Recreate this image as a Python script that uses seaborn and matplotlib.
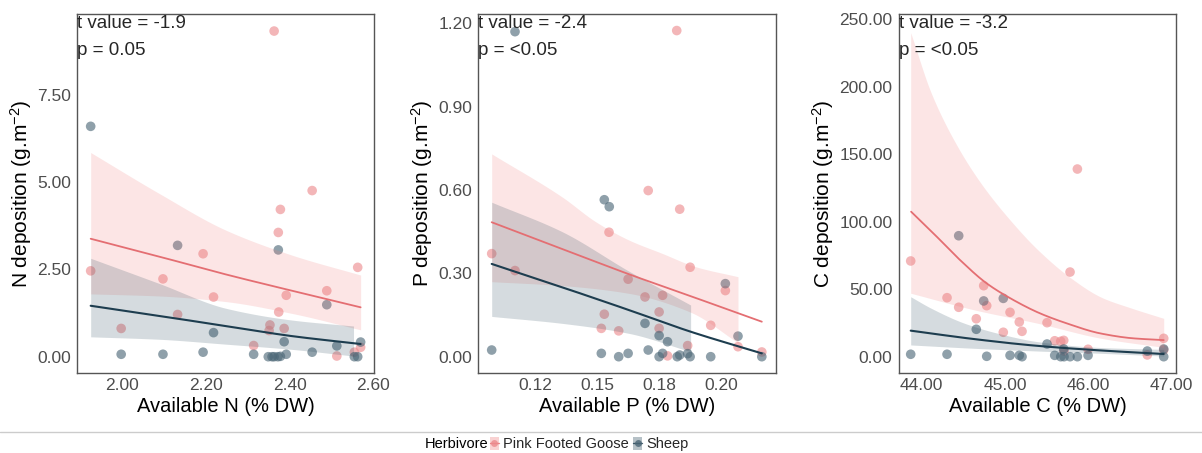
import numpy as np
import pandas as pd
import matplotlib
matplotlib.use("Agg")
import matplotlib.pyplot as plt
import seaborn as sns
from matplotlib.patches import Patch
from matplotlib.lines import Line2D

# ---------------- data ----------------
groups = ["Pink Footed Goose", "Sheep"]

# Panel N
n_goose_x = [1.924, 1.997, 2.097, 2.132, 2.193, 2.218, 2.314, 2.353, 2.351, 2.373, 2.378,
             2.374, 2.387, 2.392, 2.454, 2.489, 2.513, 2.555, 2.563, 2.570, 2.363]
n_goose_y = [2.46, 0.81, 2.23, 1.21, 2.95, 1.71, 0.32, 0.91, 0.75, 3.56, 4.22,
             1.28, 0.81, 1.76, 4.76, 1.89, 0.02, 0.13, 2.56, 0.27, 9.33]
n_sheep_x = [1.924, 1.997, 2.097, 2.132, 2.193, 2.218, 2.314, 2.349, 2.358, 2.363, 2.372,
             2.378, 2.373, 2.387, 2.392, 2.454, 2.489, 2.513, 2.555, 2.563, 2.570]
n_sheep_y = [6.60, 0.07, 0.07, 3.19, 0.13, 0.69, 0.07, 0.0, 0.0, 0.0, 0.0,
             0.01, 3.06, 0.43, 0.07, 0.13, 1.49, 0.31, 0.0, 0.0, 0.42]

# Panel P
p_goose_x = [0.1073, 0.1167, 0.1546, 0.1704, 0.1831, 0.1873, 0.1623, 0.1691, 0.1762, 0.1748, 0.1527,
             0.1515, 0.1585, 0.1748, 0.1863, 0.1782, 0.1956, 0.2015, 0.2066, 0.2162, 0.1819]
p_goose_y = [0.371, 0.310, 0.448, 0.598, 0.531, 0.322, 0.279, 0.215, 0.221, 0.161, 0.153,
             0.102, 0.093, 0.102, 0.040, 0.003, 0.113, 0.238, 0.036, 0.017, 1.174]
p_sheep_x = [0.1073, 0.1167, 0.1527, 0.1547, 0.1515, 0.1585, 0.1623, 0.1704, 0.1691, 0.1748, 0.1782,
             0.1762, 0.1748, 0.1821, 0.1831, 0.1863, 0.1873, 0.1956, 0.2015, 0.2066, 0.2162]
p_sheep_y = [0.024, 1.170, 0.565, 0.540, 0.012, 0.0, 0.012, 0.024, 0.120, 0.076, 0.054,
             0.012, 0.0, 0.0, 0.006, 0.011, 0.0, 0.0, 0.263, 0.074, 0.0]

# Panel C
c_goose_x = [43.868, 44.304, 44.444, 44.744, 44.780, 44.655, 45.060, 44.979, 45.171, 45.204, 45.504,
             45.780, 45.868, 45.596, 45.668, 45.704, 45.996, 46.904, 46.707, 46.904, 45.708]
c_goose_y = [70.9, 43.7, 36.6, 52.6, 37.8, 28.1, 32.9, 18.1, 25.7, 18.8, 25.2,
             62.7, 139.0, 11.8, 11.4, 12.1, 5.5, 13.6, 1.3, 5.0, 4.2]
c_sheep_x = [43.868, 44.304, 44.444, 44.744, 44.979, 44.655, 44.780, 45.060, 45.171, 45.204, 45.504,
             45.596, 45.704, 45.668, 45.708, 45.780, 45.868, 45.996, 46.707, 46.904, 46.904]
c_sheep_y = [1.8, 1.8, 89.6, 41.3, 43.2, 20.3, 0.3, 1.0, 1.0, 0.0, 9.4,
             1.0, 5.7, 0.0, 0.0, 0.0, 0.0, 1.0, 4.2, 5.7, 0.0]

# fitted curves and confidence bands
n_grid = [1.924, 2.0876, 2.2467, 2.4058, 2.570]
n_goose_fit = [3.38, 2.87, 2.36, 1.89, 1.415]
n_goose_hi = [5.85, 4.68, 3.63, 2.91, 2.34]
n_goose_lo = [1.80, 1.74, 1.58, 1.24, 0.77]
n_sheep_fit = [1.46, 1.17, 0.88, 0.59, 0.364]
n_sheep_band_x = [1.924, 2.0876, 2.2467, 2.4058, 2.553]
n_sheep_hi = [2.82, 2.10, 1.39, 1.05, 0.88]
n_sheep_lo = [0.57, 0.50, 0.36, 0.21, 0.02]

p_grid = [0.1073, 0.1357, 0.1626, 0.1875, 0.2162]
p_goose_fit = [0.484, 0.388, 0.297, 0.218, 0.126]
p_goose_hi_x = [0.1073, 0.1357, 0.1492, 0.1626, 0.1760, 0.1895, 0.2066]
p_goose_hi = [0.730, 0.575, 0.486, 0.420, 0.372, 0.324, 0.288]
p_goose_lo_x = [0.1073, 0.1357, 0.1626, 0.1875, 0.2066]
p_goose_lo = [0.270, 0.256, 0.228, 0.16, 0.05]
p_sheep_fit = [0.334, 0.250, 0.168, 0.090, 0.012]
p_sheep_band_x = [0.1073, 0.1357, 0.1626, 0.1875]
p_sheep_hi = [0.556, 0.45, 0.308, 0.186]
p_sheep_lo = [0.145, 0.120, 0.084, 0.018]

c_goose_fit_x = [43.873, 44.14, 44.46, 44.78, 45.10, 45.42, 45.74, 46.14, 46.54, 46.904]
c_goose_fit = [107.4, 91.4, 71.6, 54.3, 42.0, 32.1, 24.7, 17.3, 13.6, 12.3]
c_goose_hi_x = [43.868, 44.116, 44.436, 44.716, 45.036, 45.396, 45.796, 46.156, 46.516, 46.904]
c_goose_hi = [240, 195, 155, 128, 103, 79, 58, 44, 36, 28.4]
c_grid = [43.868, 44.636, 45.396, 46.155, 46.904]
c_goose_lo = [47, 34.6, 24.7, 13.6, 6.9]
c_sheep_fit = [19.3, 13.0, 8.0, 4.6, 2.0]
c_sheep_hi_x = [43.868, 44.116, 44.516, 44.916, 45.396, 46.116, 46.904]
c_sheep_hi = [44.4, 35.8, 24.7, 17.3, 11.1, 6.9, 5.4]
c_sheep_lo = [8.7, 6.2, 4.2, 2.5, 0.5]

annotations = [("t value = -1.9", "p = 0.05"),
               ("t value = -2.4", "p = <0.05"),
               ("t value = -3.2", "p = <0.05")]
y_labels = ["N deposition (g.m$^{-2}$)", "P deposition (g.m$^{-2}$)", "C deposition (g.m$^{-2}$)"]
x_labels = ["Available N (% DW)", "Available P (% DW)", "Available C (% DW)"]
n_ticks_x = [2.0, 2.2, 2.4, 2.6]
n_ticklabels_x = ["2.00", "2.20", "2.40", "2.60"]
n_ticks_y = [0.0, 2.5, 5.0, 7.5]
n_ticklabels_y = ["0.00", "2.50", "5.00", "7.50"]
p_ticks_x = [0.125, 0.15, 0.175, 0.2]
p_ticklabels_x = ["0.12", "0.15", "0.18", "0.20"]
p_ticks_y = [0.0, 0.3, 0.6, 0.9, 1.2]
p_ticklabels_y = ["0.00", "0.30", "0.60", "0.90", "1.20"]
c_ticks_x = [44, 45, 46, 47]
c_ticklabels_x = ["44.00", "45.00", "46.00", "47.00"]
c_ticks_y = [0, 50, 100, 150, 200, 250]
c_ticklabels_y = ["0.00", "50.00", "100.00", "150.00", "200.00", "250.00"]

# ---------------- styling ----------------
sns.set_style("white")
plt.rcParams["font.family"] = ["Liberation Sans", "DejaVu Sans"]
plt.rcParams["mathtext.fontset"] = "custom"
plt.rcParams["mathtext.rm"] = "Liberation Sans"
plt.rcParams["mathtext.it"] = "Liberation Sans:italic"
plt.rcParams["mathtext.bf"] = "Liberation Sans:bold"

GOOSE_PT = "#EC8A8D"
SHEEP_PT = "#4B6676"
GOOSE_LINE = "#E46E72"
SHEEP_LINE = "#1D3D4F"
GOOSE_BAND = "#F08080"
SHEEP_BAND = "#2F4F5F"
palette = {groups[0]: GOOSE_PT, groups[1]: SHEEP_PT}


def pchip(xk, yk, xs):
    xk = np.asarray(xk, float)
    yk = np.asarray(yk, float)
    h = np.diff(xk)
    d = np.diff(yk) / h
    n = len(xk)
    m = np.zeros(n)
    m[0] = d[0]
    m[-1] = d[-1]
    for k in range(1, n - 1):
        if d[k - 1] * d[k] <= 0:
            m[k] = 0.0
        else:
            w1 = 2 * h[k] + h[k - 1]
            w2 = h[k] + 2 * h[k - 1]
            m[k] = (w1 + w2) / (w1 / d[k - 1] + w2 / d[k])
    idx = np.clip(np.searchsorted(xk, xs) - 1, 0, n - 2)
    t = (xs - xk[idx]) / h[idx]
    h00 = 2 * t**3 - 3 * t**2 + 1
    h10 = t**3 - 2 * t**2 + t
    h01 = -2 * t**3 + 3 * t**2
    h11 = t**3 - t**2
    return (h00 * yk[idx] + h10 * h[idx] * m[idx] + h01 * yk[idx + 1]
            + h11 * h[idx] * m[idx + 1])


fig = plt.figure(figsize=(12.02, 4.53), dpi=100)
W, H = 1202.0, 453.0
top_px, bot_px = 14.3, 372.7
panel_px = [(77.3, 374.0), (478.3, 775.7), (898.7, 1176.3)]

panels = [
    dict(gx=n_goose_x, gy=n_goose_y, sx=n_sheep_x, sy=n_sheep_y,
         gfit=(n_grid, n_goose_fit), ghi=(n_grid, n_goose_hi), glo=(n_grid, n_goose_lo),
         sfit=(n_grid, n_sheep_fit), shi=(n_sheep_band_x, n_sheep_hi), slo=(n_sheep_band_x, n_sheep_lo),
         xlim=(1.892, 2.602), ylim=(-0.458, 9.81),
         xt=(n_ticks_x, n_ticklabels_x), yt=(n_ticks_y, n_ticklabels_y)),
    dict(gx=p_goose_x, gy=p_goose_y, sx=p_sheep_x, sy=p_sheep_y,
         gfit=(p_grid, p_goose_fit), ghi=(p_goose_hi_x, p_goose_hi), glo=(p_goose_lo_x, p_goose_lo),
         sfit=(p_grid, p_sheep_fit), shi=(p_sheep_band_x, p_sheep_hi), slo=(p_sheep_band_x, p_sheep_lo),
         xlim=(0.1019, 0.2218), ylim=(-0.0576, 1.2325),
         xt=(p_ticks_x, p_ticklabels_x), yt=(p_ticks_y, p_ticklabels_y)),
    dict(gx=c_goose_x, gy=c_goose_y, sx=c_sheep_x, sy=c_sheep_y,
         gfit=(c_goose_fit_x, c_goose_fit), ghi=(c_goose_hi_x, c_goose_hi), glo=(c_grid, c_goose_lo),
         sfit=(c_grid, c_sheep_fit), shi=(c_sheep_hi_x, c_sheep_hi), slo=(c_grid, c_sheep_lo),
         xlim=(43.724, 47.055), ylim=(-11.85, 253.6),
         xt=(c_ticks_x, c_ticklabels_x), yt=(c_ticks_y, c_ticklabels_y)),
]

for i, p in enumerate(panels):
    l_px, r_px = panel_px[i]
    ax = fig.add_axes([l_px / W, 1 - bot_px / H, (r_px - l_px) / W, (bot_px - top_px) / H])
    df = pd.DataFrame({
        "x": list(p["gx"]) + list(p["sx"]),
        "y": list(p["gy"]) + list(p["sy"]),
        "Herbivore": [groups[0]] * len(p["gx"]) + [groups[1]] * len(p["sx"]),
    })
    sns.scatterplot(data=df, x="x", y="y", hue="Herbivore", palette=palette, s=48,
                    alpha=0.62, edgecolor="none", linewidth=0, legend=False, ax=ax, zorder=1)

    for fit, hi, lo, bcol, lcol, lw in [
        (p["gfit"], p["ghi"], p["glo"], GOOSE_BAND, GOOSE_LINE, 1.3),
        (p["sfit"], p["shi"], p["slo"], SHEEP_BAND, SHEEP_LINE, 1.5),
    ]:
        bx = np.linspace(max(hi[0][0], lo[0][0]), min(hi[0][-1], lo[0][-1]), 300)
        upper = pchip(hi[0], hi[1], bx)
        lower = np.clip(pchip(lo[0], lo[1], bx), 0, None)
        ax.fill_between(bx, lower, upper, color=bcol, alpha=0.2, linewidth=0, zorder=2)
        fx = np.linspace(fit[0][0], fit[0][-1], 300)
        ax.plot(fx, pchip(fit[0], fit[1], fx), color=lcol, lw=lw, zorder=3)

    ax.set_xlim(*p["xlim"])
    ax.set_ylim(*p["ylim"])
    ax.set_xticks(p["xt"][0])
    ax.set_xticklabels(p["xt"][1])
    ax.set_yticks(p["yt"][0])
    ax.set_yticklabels(p["yt"][1])
    ax.tick_params(axis="both", which="both", direction="out", length=3, width=0.8,
                   color="#333333", labelcolor="#4d4d4d", labelsize=12.5)
    ax.tick_params(axis="x", pad=0.5)
    ax.tick_params(axis="y", pad=1.5)
    ax.set_xlabel(x_labels[i], fontsize=14.5, color="black", labelpad=3)
    ax.set_ylabel(y_labels[i], fontsize=15, color="black", labelpad=2)
    for sp in ax.spines.values():
        sp.set_visible(True)
        sp.set_color("#555555")
        sp.set_linewidth(1.0)
    ax.grid(False)
    ax_h = bot_px - top_px
    ax.text(0.0, 1 - (28.3 - top_px) / ax_h, annotations[i][0], transform=ax.transAxes,
            ha="left", va="baseline", fontsize=13.5, color="#262626")
    ax.text(0.0, 1 - (55.0 - top_px) / ax_h, annotations[i][1], transform=ax.transAxes,
            ha="left", va="baseline", fontsize=13.5, color="#262626")

# separator line and legend
sep_y = 1 - 432 / H
fig.add_artist(Line2D([0, 1], [sep_y, sep_y], transform=fig.transFigure, color="#cccccc", lw=1))
leg_y = 1 - 444 / H
fig.text(425 / W, leg_y, "Herbivore", ha="left", va="center", fontsize=10.5, color="black")

goose_handle = (Patch(facecolor=GOOSE_BAND, alpha=0.35, edgecolor="none"),
                Line2D([], [], color=GOOSE_LINE, lw=1, marker="o", markersize=5,
                       markerfacecolor=GOOSE_PT, markeredgewidth=0, alpha=0.8))
sheep_handle = (Patch(facecolor=SHEEP_BAND, alpha=0.35, edgecolor="none"),
                Line2D([], [], color=SHEEP_LINE, lw=1, marker="o", markersize=5,
                       markerfacecolor=SHEEP_PT, markeredgewidth=0, alpha=0.8))
fig.legend([goose_handle, sheep_handle], groups, loc="center left",
           bbox_to_anchor=(490 / W, leg_y), ncol=2, frameon=False, fontsize=10.5,
           handlelength=0.6, handleheight=1.0, handletextpad=0.3, columnspacing=0.3,
           borderpad=0, borderaxespad=0)

fig.savefig("out.png", dpi=100)
